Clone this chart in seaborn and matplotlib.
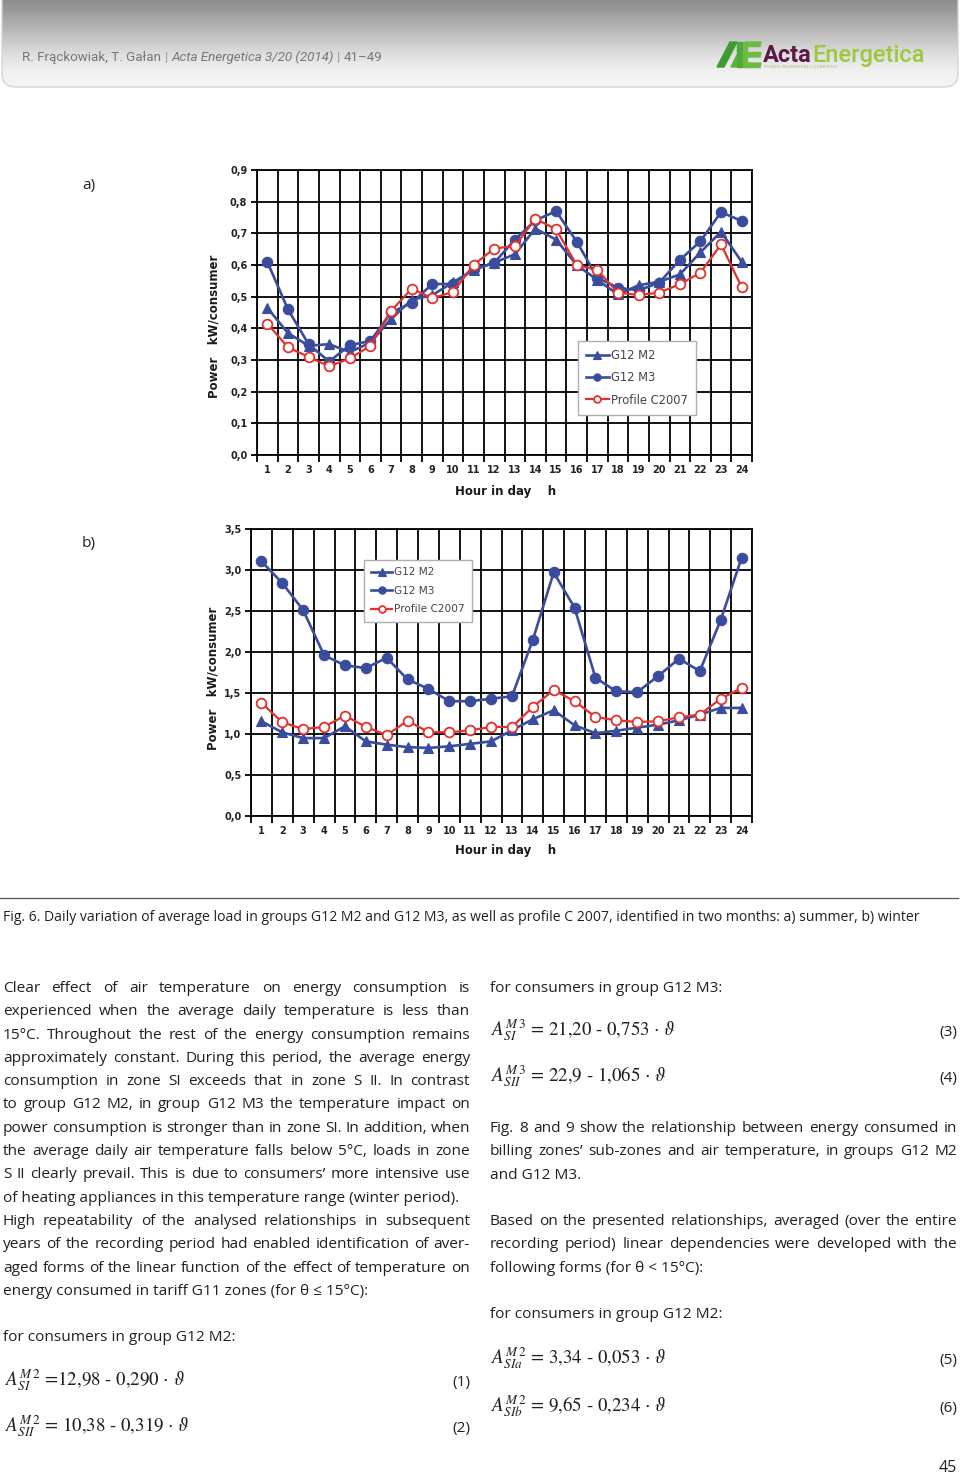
import numpy as np
import pandas as pd
import matplotlib
matplotlib.use("Agg")
import matplotlib.pyplot as plt
import seaborn as sns
from matplotlib.patches import FancyBboxPatch, Polygon
from matplotlib.colors import LinearSegmentedColormap

# ---- data (hour 1..24) ----
hours = list(range(1, 25))
series_names = ["G12 M2", "G12 M3", "Profile C2007"]

summer_m2 = [0.465, 0.385, 0.345, 0.350, 0.325, 0.355, 0.430, 0.490, 0.505, 0.545, 0.585, 0.607,
             0.634, 0.715, 0.680, 0.600, 0.553, 0.507, 0.536, 0.547, 0.570, 0.640, 0.705, 0.610]
summer_m3 = [0.610, 0.460, 0.350, 0.295, 0.347, 0.360, 0.450, 0.480, 0.540, 0.540, 0.586, 0.607,
             0.680, 0.741, 0.770, 0.674, 0.560, 0.528, 0.520, 0.544, 0.616, 0.675, 0.767, 0.739]
summer_c2007 = [0.415, 0.340, 0.310, 0.280, 0.305, 0.345, 0.455, 0.525, 0.495, 0.515, 0.600, 0.652,
                0.660, 0.746, 0.713, 0.600, 0.584, 0.513, 0.505, 0.513, 0.539, 0.576, 0.665, 0.530]

winter_m2 = [1.155, 1.020, 0.950, 0.950, 1.094, 0.910, 0.870, 0.840, 0.830, 0.850, 0.880, 0.910,
             1.045, 1.180, 1.290, 1.106, 1.010, 1.040, 1.077, 1.114, 1.167, 1.237, 1.318, 1.318]
winter_m3 = [3.106, 2.840, 2.510, 1.960, 1.837, 1.804, 1.930, 1.665, 1.550, 1.400, 1.400, 1.430,
             1.460, 2.147, 2.970, 2.540, 1.686, 1.520, 1.510, 1.706, 1.918, 1.767, 2.390, 3.147]
winter_c2007 = [1.380, 1.143, 1.060, 1.086, 1.224, 1.086, 0.988, 1.160, 1.024, 1.020, 1.045, 1.086,
                1.086, 1.330, 1.535, 1.400, 1.208, 1.167, 1.147, 1.155, 1.204, 1.237, 1.430, 1.560]

summer_yticks = [0.0, 0.1, 0.2, 0.3, 0.4, 0.5, 0.6, 0.7, 0.8, 0.9]
winter_yticks = [0.0, 0.5, 1.0, 1.5, 2.0, 2.5, 3.0, 3.5]

W, H = 960, 1476
fig = plt.figure(figsize=(W / 100, H / 100), dpi=100)
fig.patch.set_facecolor("white")
renderer = fig.canvas.get_renderer()

BLUE = "#3a4c9e"
RED = "#e3312d"
INK = "#231f20"
BODY = dict(family="Open Sans", size=11.1, color=INK)


def fx(x):
    return x / W


def fy(y):
    return 1 - y / H


def put(x, y, s, **kw):
    opts = dict(BODY)
    opts.update(kw)
    return fig.text(fx(x), fy(y), s, va="baseline", **opts)


def width_of(t):
    return t.get_window_extent(renderer).width


def justified(x0, x1, y, line, **kw):
    words = line.split()
    items = [put(x0, y, w, **kw) for w in words]
    widths = [width_of(t) for t in items]
    gap = (x1 - x0 - sum(widths)) / (len(words) - 1)
    x = x0
    for t, w in zip(items, widths):
        t.set_x(fx(x))
        x += w + gap


def paragraph(x0, x1, y0, lines, step=23.3):
    for i, (line, just) in enumerate(lines):
        y = y0 + i * step
        if just:
            justified(x0, x1, y, line)
        else:
            put(x0, y, line)


# ---- header band ----
hax = fig.add_axes([0, fy(90), 1, 90 / H])
hax.set_xlim(0, W)
hax.set_ylim(90, 0)
hax.axis("off")
band = LinearSegmentedColormap.from_list(
    "band", [(0, "#8c8c8c"), (0.3, "#b2b2b2"), (0.6, "#dbdbdb"), (0.8, "#f0f0f0"), (1, "#f6f6f6")])
grad = np.linspace(0, 1, 200)[:, None]
im = hax.imshow(grad, extent=[2, 958, 87, 0], aspect="auto", cmap=band, vmin=0, vmax=1)
frame = FancyBboxPatch((2, -20), 956, 107, boxstyle="round,pad=0,rounding_size=14",
                       facecolor="none", edgecolor="#d4d4d4", lw=1.0, transform=hax.transData)
hax.add_patch(frame)
im.set_clip_path(frame)

runs = [("R. Frąckowiak, T. Gałan", dict()), ("|", dict(color="#999999")),
        ("Acta Energetica 3/20 (2014)", dict(style="italic")), ("|", dict(color="#999999")),
        ("41–49", dict())]
hx = 22
for s, extra in runs:
    opts = dict(family="Roboto", size=9.6, color="#767676")
    opts.update(extra)
    t = fig.text(fx(hx), fy(61), s, va="baseline", **opts)
    hx += width_of(t) + 3.5

# logo
hax.add_patch(Polygon([(717, 67), (730, 42), (737, 42), (724, 67)], color="#3f9b35"))
hax.add_patch(Polygon([(731, 67), (737, 55), (741, 55), (741, 67)], color="#5fb142"))
hax.add_patch(Polygon([(737, 42), (743, 42), (743, 67), (737, 67)], color="#4ea83c"))
for yy in (42, 52.5, 63):
    hax.add_patch(Polygon([(745, yy), (761, yy), (760, yy + 4.5), (745, yy + 4.5)], color="#6cbb45"))
hax.add_patch(Polygon([(743, 42), (747, 42), (747, 67), (743, 67)], color="#6cbb45"))
ta = hax.text(763, 62, "Acta", family="Roboto", weight="bold", size=17, color="#5b1a48", va="baseline")
aw = width_of(ta)
hax.text(763 + aw + 1, 62, "Energetica", family="Roboto", weight="medium", size=17,
         color="#9dc73e", va="baseline")
hax.text(764, 67, "POWER ENGINEERING QUARTERLY", family="DejaVu Sans", size=3.2,
         color="#aabb88", va="center")


# ---- charts ----
def draw_chart(rect, m2, m3, c07, yticks, leg_anchor, leg_size):
    ax = fig.add_axes(rect)
    df = pd.DataFrame({"hour": hours, series_names[0]: m2, series_names[1]: m3, series_names[2]: c07})
    sns.lineplot(data=df, x="hour", y=series_names[0], ax=ax, color=BLUE, lw=1.9, marker="^",
                 markersize=7.5, mec=BLUE, mew=0.8, label=series_names[0])
    sns.lineplot(data=df, x="hour", y=series_names[1], ax=ax, color=BLUE, lw=1.9, marker="o",
                 markersize=7.5, mec=BLUE, mew=0.8, label=series_names[1])
    sns.lineplot(data=df, x="hour", y=series_names[2], ax=ax, color=RED, lw=1.6, marker="o",
                 markersize=7, mfc="white", mec=RED, mew=1.3, label=series_names[2])
    ax.set_xlim(0.5, 24.5)
    ax.set_ylim(yticks[0], yticks[-1])
    ax.set_xticks(hours)
    ax.set_xticklabels([str(h) for h in hours])
    ax.set_xticks(np.arange(0.5, 25, 1), minor=True)
    ax.set_yticks(yticks)
    ax.set_yticklabels([f"{v:.1f}".replace(".", ",") for v in yticks])
    ax.set_xlabel("")
    ax.set_ylabel("")
    ax.grid(False)
    ax.grid(which="minor", axis="x", color="black", lw=1.3)
    ax.grid(which="major", axis="y", color="black", lw=1.3)
    ax.set_axisbelow(True)
    for sp in ax.spines.values():
        sp.set_color("black")
        sp.set_linewidth(1.3)
    ax.tick_params(axis="x", which="major", length=0, pad=7)
    ax.tick_params(axis="x", which="minor", length=5, width=1.3, direction="out")
    ax.tick_params(axis="y", length=4, width=1.3, pad=3)
    for lab in ax.get_xticklabels() + ax.get_yticklabels():
        lab.set_family("DejaVu Sans")
        lab.set_fontweight("bold")
        lab.set_fontsize(7)
        lab.set_color("#222222")
    leg = ax.legend(loc="upper left", bbox_to_anchor=leg_anchor, frameon=True, fancybox=False,
                    edgecolor="#b0b0b0", framealpha=1, fontsize=leg_size, handlelength=2.0,
                    handletextpad=0.15, labelspacing=0.8, borderpad=0.7, markerscale=0.7,
                    borderaxespad=0)
    leg.get_frame().set_linewidth(1.0)
    for t in leg.get_texts():
        t.set_color("#444444")
    return ax


draw_chart([fx(257), fy(455), 495 / W, 285 / H], summer_m2, summer_m3, summer_c2007,
           summer_yticks, (0.648, 0.40), 8.3)
draw_chart([fx(251), fy(816), 501 / W, 287 / H], winter_m2, winter_m3, winter_c2007,
           winter_yticks, (0.2255, 0.892), 7.6)

AXLAB = dict(family="DejaVu Sans", weight="bold", size=8.5, color="#1a1a1a", ha="center", va="center")
fig.text(fx(214), fy(326), "Power   kW/consumer", rotation=90, **AXLAB)
fig.text(fx(213), fy(678), "Power   kW/consumer", rotation=90, **AXLAB)
fig.text(fx(506), fy(492), "Hour in day    h", **AXLAB)
fig.text(fx(506), fy(851), "Hour in day    h", **AXLAB)

put(82, 189, "a)")
put(82, 547, "b)")

# ---- caption ----
fig.add_artist(plt.Line2D([0, fx(958)], [fy(898), fy(898)], color="#555555", lw=0.9))
put(3, 921, "Fig. 6. Daily variation of average load in groups G12 M2 and G12 M3, as well as profile "
            "C 2007, identified in two months: a) summer, b) winter", size=10.1)

# ---- body text ----
left_lines = [
    ("Clear effect of air temperature on energy consumption is", True),
    ("experienced when the average daily temperature is less than", True),
    ("15°C. Throughout the rest of the energy consumption remains", True),
    ("approximately constant. During this period, the average energy", True),
    ("consumption in zone SI exceeds that in zone S II. In contrast", True),
    ("to group G12 M2, in group G12 M3 the temperature impact on", True),
    ("power consumption is stronger than in zone SI. In addition, when", True),
    ("the average daily air temperature falls below 5°C, loads in zone", True),
    ("S II clearly prevail. This is due to consumers’ more intensive use", True),
    ("of heating appliances in this temperature range (winter period).", False),
    ("High repeatability of the analysed relationships in subsequent", True),
    ("years of the recording period had enabled identification of aver-", True),
    ("aged forms of the linear function of the effect of temperature on", True),
    ("energy consumed in tariff G11 zones (for θ ≤ 15°C):", False),
]
paragraph(3, 470, 992, left_lines)
put(3, 1341, "for consumers in group G12 M2:")

put(490, 992, "for consumers in group G12 M3:")
paragraph(490, 957, 1132, [
    ("Fig. 8 and 9 show the relationship between energy consumed in", True),
    ("billing zones’ sub-zones and air temperature, in groups G12 M2", True),
    ("and G12 M3.", False),
])
paragraph(490, 957, 1225, [
    ("Based on the presented relationships, averaged (over the entire", True),
    ("recording period) linear dependencies were developed with the", True),
    ("following forms (for θ < 15°C):", False),
])
put(490, 1318, "for consumers in group G12 M2:")

# ---- equations ----
plt.rcParams["mathtext.fontset"] = "stix"
EQ = dict(family="STIXGeneral", size=13.6, color=INK)
equations = [
    (5, 1386, r"$A_{SI}^{M\,2}$ =12,98 - 0,290 $\cdot$ $\vartheta$", 470, "(1)"),
    (5, 1432, r"$A_{SII}^{M\,2}$ = 10,38 - 0,319 $\cdot$ $\vartheta$", 470, "(2)"),
    (491, 1036, r"$A_{SI}^{M\,3}$ = 21,20 - 0,753 $\cdot$ $\vartheta$", 957, "(3)"),
    (491, 1082, r"$A_{SII}^{M\,3}$ = 22,9 - 1,065 $\cdot$ $\vartheta$", 957, "(4)"),
    (491, 1364, r"$A_{SIa}^{M\,2}$ = 3,34 - 0,053 $\cdot$ $\vartheta$", 957, "(5)"),
    (491, 1412, r"$A_{SIb}^{M\,2}$ = 9,65 - 0,234 $\cdot$ $\vartheta$", 957, "(6)"),
]
for x, y, eq, xr, num in equations:
    fig.text(fx(x), fy(y), eq, va="baseline", **EQ)
    fig.text(fx(xr), fy(y), num, va="baseline", ha="right", **BODY)

fig.text(fx(957), fy(1472), "45", va="baseline", ha="right", **dict(BODY, size=11.5))

fig.savefig("out.png", dpi=100, facecolor="white")
